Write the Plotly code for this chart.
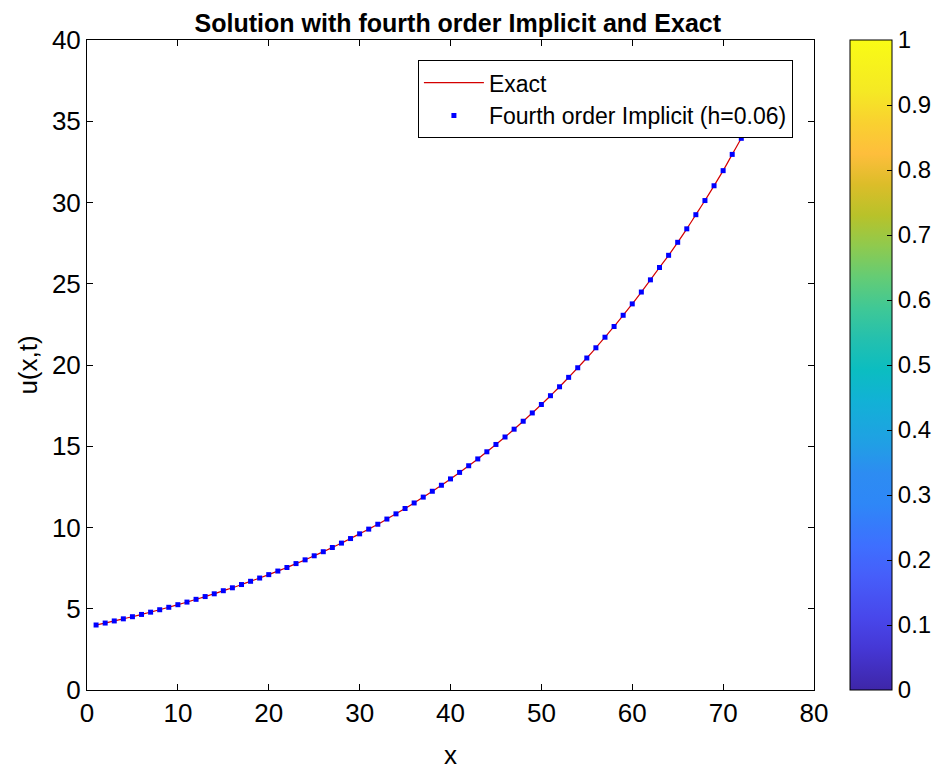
import plotly.graph_objects as go

# Data
x_points = list(range(1, 73))
u_implicit = [4.00, 4.12, 4.25, 4.38, 4.51, 4.65, 4.79, 4.94, 5.09, 5.25,
              5.41, 5.58, 5.75, 5.92, 6.11, 6.29, 6.49, 6.69, 6.89, 7.10,
              7.32, 7.54, 7.78, 8.01, 8.26, 8.51, 8.77, 9.04, 9.32, 9.61,
              9.90, 10.20, 10.52, 10.84, 11.17, 11.51, 11.87, 12.23, 12.60, 12.99,
              13.39, 13.80, 14.22, 14.66, 15.11, 15.57, 16.05, 16.54, 17.05, 17.57,
              18.11, 18.66, 19.24, 19.83, 20.43, 21.06, 21.71, 22.37, 23.06, 23.76,
              24.49, 25.24, 26.00, 26.75, 27.55, 28.38, 29.25, 30.12, 31.03, 31.96,
              32.96, 33.95]
x_exact = list(range(1, 75))
u_exact = u_implicit + [34.97, 36.02]

x_ticks = [0, 10, 20, 30, 40, 50, 60, 70, 80]
y_ticks = [0, 5, 10, 15, 20, 25, 30, 35, 40]
cbar_ticks = [0, 0.1, 0.2, 0.3, 0.4, 0.5, 0.6, 0.7, 0.8, 0.9, 1]
cbar_labels = ["0", "0.1", "0.2", "0.3", "0.4", "0.5", "0.6", "0.7", "0.8", "0.9", "1"]

parula = [
    [0.0, "rgb(62,38,168)"], [0.0635, "rgb(69,55,213)"], [0.111, "rgb(72,71,235)"],
    [0.175, "rgb(70,94,250)"], [0.222, "rgb(62,111,255)"], [0.286, "rgb(46,135,247)"],
    [0.333, "rgb(45,140,242)"], [0.381, "rgb(32,160,228)"], [0.444, "rgb(18,177,214)"],
    [0.492, "rgb(11,189,193)"], [0.540, "rgb(36,192,174)"], [0.587, "rgb(63,200,150)"],
    [0.635, "rgb(100,204,117)"], [0.683, "rgb(143,202,78)"], [0.730, "rgb(184,194,42)"],
    [0.778, "rgb(220,189,41)"], [0.825, "rgb(254,190,60)"], [0.873, "rgb(249,209,48)"],
    [0.921, "rgb(245,233,36)"], [1.0, "rgb(249,251,21)"]
]

font_family = "Liberation Sans, Arial, sans-serif"

fig = go.Figure()
fig.add_trace(go.Scatter(
    x=x_exact, y=u_exact, mode="lines", name="Exact",
    line=dict(color="#d40000", width=1.2), line_shape="spline"))
fig.add_trace(go.Scatter(
    x=x_points, y=u_implicit, mode="markers", name="Fourth order Implicit (h=0.06)",
    marker=dict(symbol="square", size=5, color="#0000ff")))
fig.add_trace(go.Scatter(
    x=[None], y=[None], mode="markers", showlegend=False, hoverinfo="skip",
    marker=dict(color=[0], cmin=0, cmax=1, colorscale=parula, showscale=True,
                colorbar=dict(
                    x=1.0495, xanchor="left", xref="paper",
                    y=0.5, yanchor="middle", len=1.0, lenmode="fraction",
                    thickness=42, thicknessmode="pixels",
                    outlinecolor="black", outlinewidth=1,
                    tickvals=cbar_ticks, ticktext=cbar_labels,
                    ticks="inside", ticklen=5, tickcolor="black",
                    tickfont=dict(family=font_family, size=24, color="black"),
                    xpad=0, ypad=0))))

axis_common = dict(
    showgrid=False, zeroline=False, showline=True, linecolor="black", linewidth=1,
    mirror="ticks", ticks="inside", ticklen=6, tickcolor="black",
    tickfont=dict(family=font_family, size=26, color="black"))

fig.update_layout(
    width=947, height=770,
    margin=dict(l=79, r=141, t=32, b=88),
    paper_bgcolor="white", plot_bgcolor="white",
    title=dict(text="<b>Solution with fourth order Implicit and Exact</b>",
               xref="container", x=0.475, xanchor="center",
               yref="container", y=0.980, yanchor="middle",
               font=dict(family=font_family, size=25, color="black")),
    xaxis=dict(range=[0, 80], tickvals=x_ticks,
               title=dict(text="x", font=dict(family=font_family, size=26, color="black"), standoff=18),
               **axis_common),
    yaxis=dict(range=[0, 40], tickvals=y_ticks,
               title=dict(text="u(x,t)", font=dict(family=font_family, size=26, color="black"), standoff=6),
               **axis_common),
    legend=dict(x=0.971, xanchor="right", y=0.969, yanchor="top",
                bgcolor="white", bordercolor="black", borderwidth=1,
                font=dict(family=font_family, size=23, color="black"),
                tracegroupgap=0, itemwidth=60),
    showlegend=True,
)

fig.write_html("out.html")
